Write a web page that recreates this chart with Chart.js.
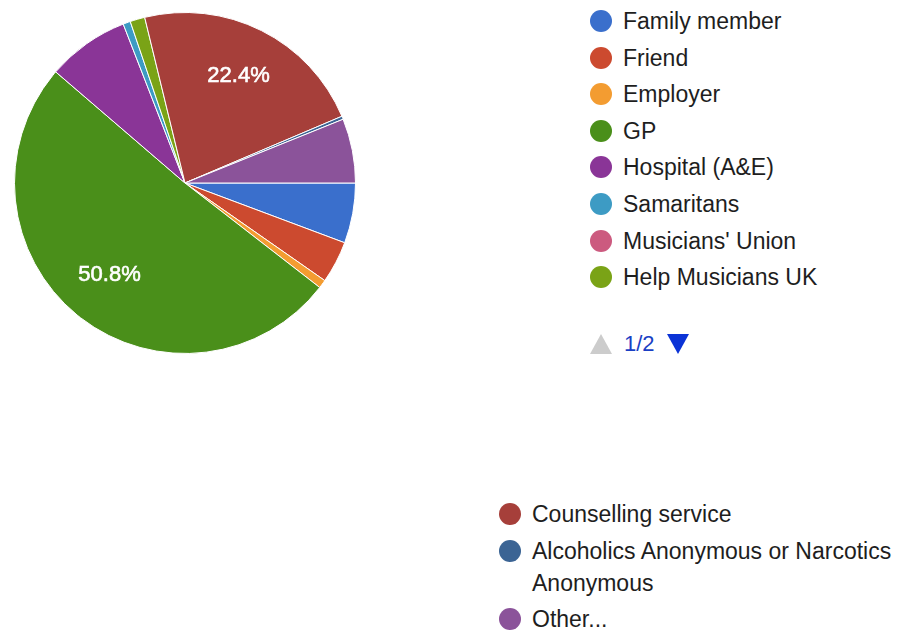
<!DOCTYPE html>
<html lang="en">
  <head>
    <meta charset="utf-8" />
    <title>Sources of help</title>
    <style>
      * {
        margin: 0;
        padding: 0;
      }
      body {
        width: 907px;
        height: 632px;
        background: white;
        position: relative;
        overflow: hidden;
        font-family: "Liberation Sans", Arial, sans-serif;
        color: #1e1e1e;
      }
      .pieBox {
        position: absolute;
        left: 14px;
        top: 12px;
        width: 342px;
        height: 342px;
      }
      .legend {
        position: absolute;
        list-style: none;
        font-size: 23px;
      }
      .legend li {
        position: relative;
        padding-left: 33px;
        line-height: 32px;
        margin-bottom: 4.6px;
      }
      .legend li span.dot {
        position: absolute;
        left: 0;
        top: 5px;
        width: 22px;
        height: 22px;
        border-radius: 50%;
      }
      .pager {
        position: absolute;
        left: 590px;
        top: 331px;
        font-size: 22px;
        color: #1a3fc4;
        display: flex;
        align-items: center;
      }
      .pager .up {
        width: 0;
        height: 0;
        border-left: 11px solid transparent;
        border-right: 11px solid transparent;
        border-bottom: 20px solid #ccc;
        margin-right: 12px;
      }
      .pager .down {
        width: 0;
        height: 0;
        border-left: 11px solid transparent;
        border-right: 11px solid transparent;
        border-top: 20px solid #0b33d6;
        margin-left: 12px;
      }
    </style>
  </head>
  <body>
    <div class="pieBox">
      <canvas id="myChart"></canvas>
    </div>
    <ul class="legend" id="legend1" style="left: 590px; top: 5px"></ul>
    <div class="pager">
      <div class="up"></div>
      <span>1/2</span>
      <div class="down"></div>
    </div>
    <ul class="legend" id="legend2" style="left: 499px; top: 498px; width: 410px"></ul>

    <script src="https://cdn.jsdelivr.net/npm/chart.js"></script>

    <script>
      // data block
      const labels = [
        "Family member",
        "Friend",
        "Employer",
        "GP",
        "Hospital (A&E)",
        "Samaritans",
        "Musicians' Union",
        "Help Musicians UK",
        "Counselling service",
        "Alcoholics Anonymous or Narcotics Anonymous",
        "Other...",
      ];
      // percent of respondents
      const shares = [5.7, 4.0, 0.8, 50.8, 7.8, 0.7, 0, 1.4, 22.4, 0.3, 6.1];
      const colors = [
        "#3a6fcc",
        "#cc4a2f",
        "#f39c31",
        "#4a8f1a",
        "#8a3597",
        "#3d9bc4",
        "#cc5a7f",
        "#7aa316",
        "#a63f3a",
        "#3b6494",
        "#8b539a",
      ];
      // legend is split over two pages in the original
      const page1 = [0, 1, 2, 3, 4, 5, 6, 7];
      const page2 = [8, 9, 10];

      // build the html legends
      function fillLegend(id, idx) {
        const ul = document.getElementById(id);
        idx.forEach((i) => {
          const li = document.createElement("li");
          const dot = document.createElement("span");
          dot.className = "dot";
          dot.style.background = colors[i];
          li.appendChild(dot);
          li.appendChild(document.createTextNode(labels[i]));
          ul.appendChild(li);
        });
      }
      fillLegend("legend1", page1);
      fillLegend("legend2", page2);

      // percentage labels inside the big slices
      const sliceLabels = {
        id: "sliceLabels",
        afterDatasetsDraw(chart) {
          const { ctx } = chart;
          const meta = chart.getDatasetMeta(0);
          const values = chart.data.datasets[0].data;
          const total = values.reduce((a, b) => a + b, 0);
          ctx.save();
          ctx.font = "22px 'Liberation Sans', Arial, sans-serif";
          ctx.fillStyle = "white";
          ctx.strokeStyle = "white";
          ctx.lineWidth = 0.6;
          ctx.textAlign = "center";
          ctx.textBaseline = "middle";
          meta.data.forEach((arc, i) => {
            const pct = (values[i] / total) * 100;
            if (pct < 15) return;
            const mid = (arc.startAngle + arc.endAngle) / 2;
            const r = arc.outerRadius * 0.7;
            const x = arc.x + Math.cos(mid) * r;
            const y = arc.y + Math.sin(mid) * r;
            ctx.fillText(pct.toFixed(1) + "%", x, y);
            ctx.strokeText(pct.toFixed(1) + "%", x, y);
          });
          ctx.restore();
        },
      };

      // config block
      const config = {
        type: "pie",
        data: {
          labels: labels,
          datasets: [
            {
              data: shares,
              backgroundColor: colors,
              borderColor: "white",
              borderWidth: 1,
            },
          ],
        },
        options: {
          responsive: true,
          maintainAspectRatio: false,
          animation: false,
          // google pies start at 3 o'clock here
          rotation: 90,
          plugins: {
            legend: { display: false },
            tooltip: { enabled: false },
          },
        },
        plugins: [sliceLabels],
      };

      const myChart = new Chart(document.getElementById("myChart"), config);
    </script>
  </body>
</html>
